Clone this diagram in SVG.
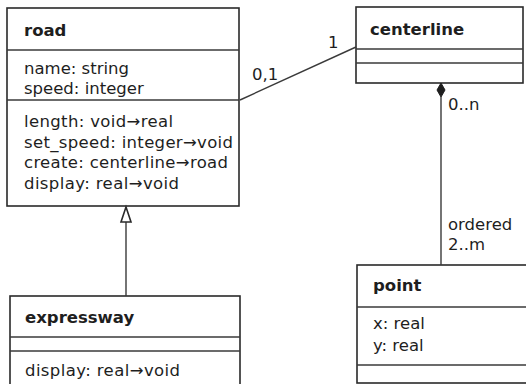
<svg xmlns="http://www.w3.org/2000/svg" width="526" height="384" viewBox="0 0 526 384">
<style>
.box{fill:#fff;stroke:#2a2a2a;stroke-width:1.6}
.div{stroke:#3a3a3a;stroke-width:1.3}
.conn{stroke:#3a3a3a;stroke-width:1.4;fill:none}
text{font-family:"DejaVu Sans","Verdana",sans-serif;font-size:16.5px;fill:#1e1e1e}
.t{font-weight:bold}
</style>
<rect width="526" height="384" fill="#fff"/>
<g id="road">
<rect class="box" x="7" y="8" width="232" height="198"/>
<line class="div" x1="7" y1="50" x2="239" y2="50"/>
<line class="div" x1="7" y1="100" x2="239" y2="100"/>
<text class="t" x="24" y="36">road</text>
<text x="24" y="74">name: string</text>
<text x="24" y="94">speed: integer</text>
<text x="24" y="127" textLength="149" lengthAdjust="spacing">length: void→real</text>
<text x="24" y="148" textLength="209" lengthAdjust="spacing">set_speed: integer→void</text>
<text x="24" y="168" textLength="204" lengthAdjust="spacing">create: centerline→road</text>
<text x="24" y="189" textLength="155" lengthAdjust="spacing">display: real→void</text>
</g>
<g id="centerline">
<rect class="box" x="356" y="7" width="167" height="76"/>
<line class="div" x1="356" y1="49" x2="523" y2="49"/>
<line class="div" x1="356" y1="63" x2="523" y2="63"/>
<text class="t" x="370" y="35">centerline</text>
</g>
<g id="expressway">
<rect class="box" x="10" y="296" width="230" height="100"/>
<line class="div" x1="10" y1="337" x2="240" y2="337"/>
<line class="div" x1="10" y1="351" x2="240" y2="351"/>
<text class="t" x="25" y="323">expressway</text>
<text x="25" y="376" textLength="155" lengthAdjust="spacing">display: real→void</text>
</g>
<g id="point">
<rect class="box" x="357" y="265" width="180" height="118"/>
<line class="div" x1="357" y1="307" x2="537" y2="307"/>
<line class="div" x1="357" y1="365" x2="537" y2="365"/>
<text class="t" x="373" y="291">point</text>
<text x="373" y="329">x: real</text>
<text x="373" y="351">y: real</text>
</g>
<g id="connectors">
<line class="conn" x1="240" y1="100" x2="356" y2="47"/>
<text x="252" y="80">0,1</text>
<text x="328" y="48">1</text>
<line class="conn" x1="441" y1="97" x2="441" y2="265"/>
<polygon points="441,83 445,90 441,97 437,90" fill="#1e1e1e" stroke="#1e1e1e" stroke-width="1"/>
<text x="448" y="110">0..n</text>
<text x="448" y="230">ordered</text>
<text x="448" y="250">2..m</text>
<line class="conn" x1="126" y1="222" x2="126" y2="296"/>
<polygon points="126,207 131,222 121,222" fill="#fff" stroke="#2a2a2a" stroke-width="1.6"/>
</g>
</svg>
